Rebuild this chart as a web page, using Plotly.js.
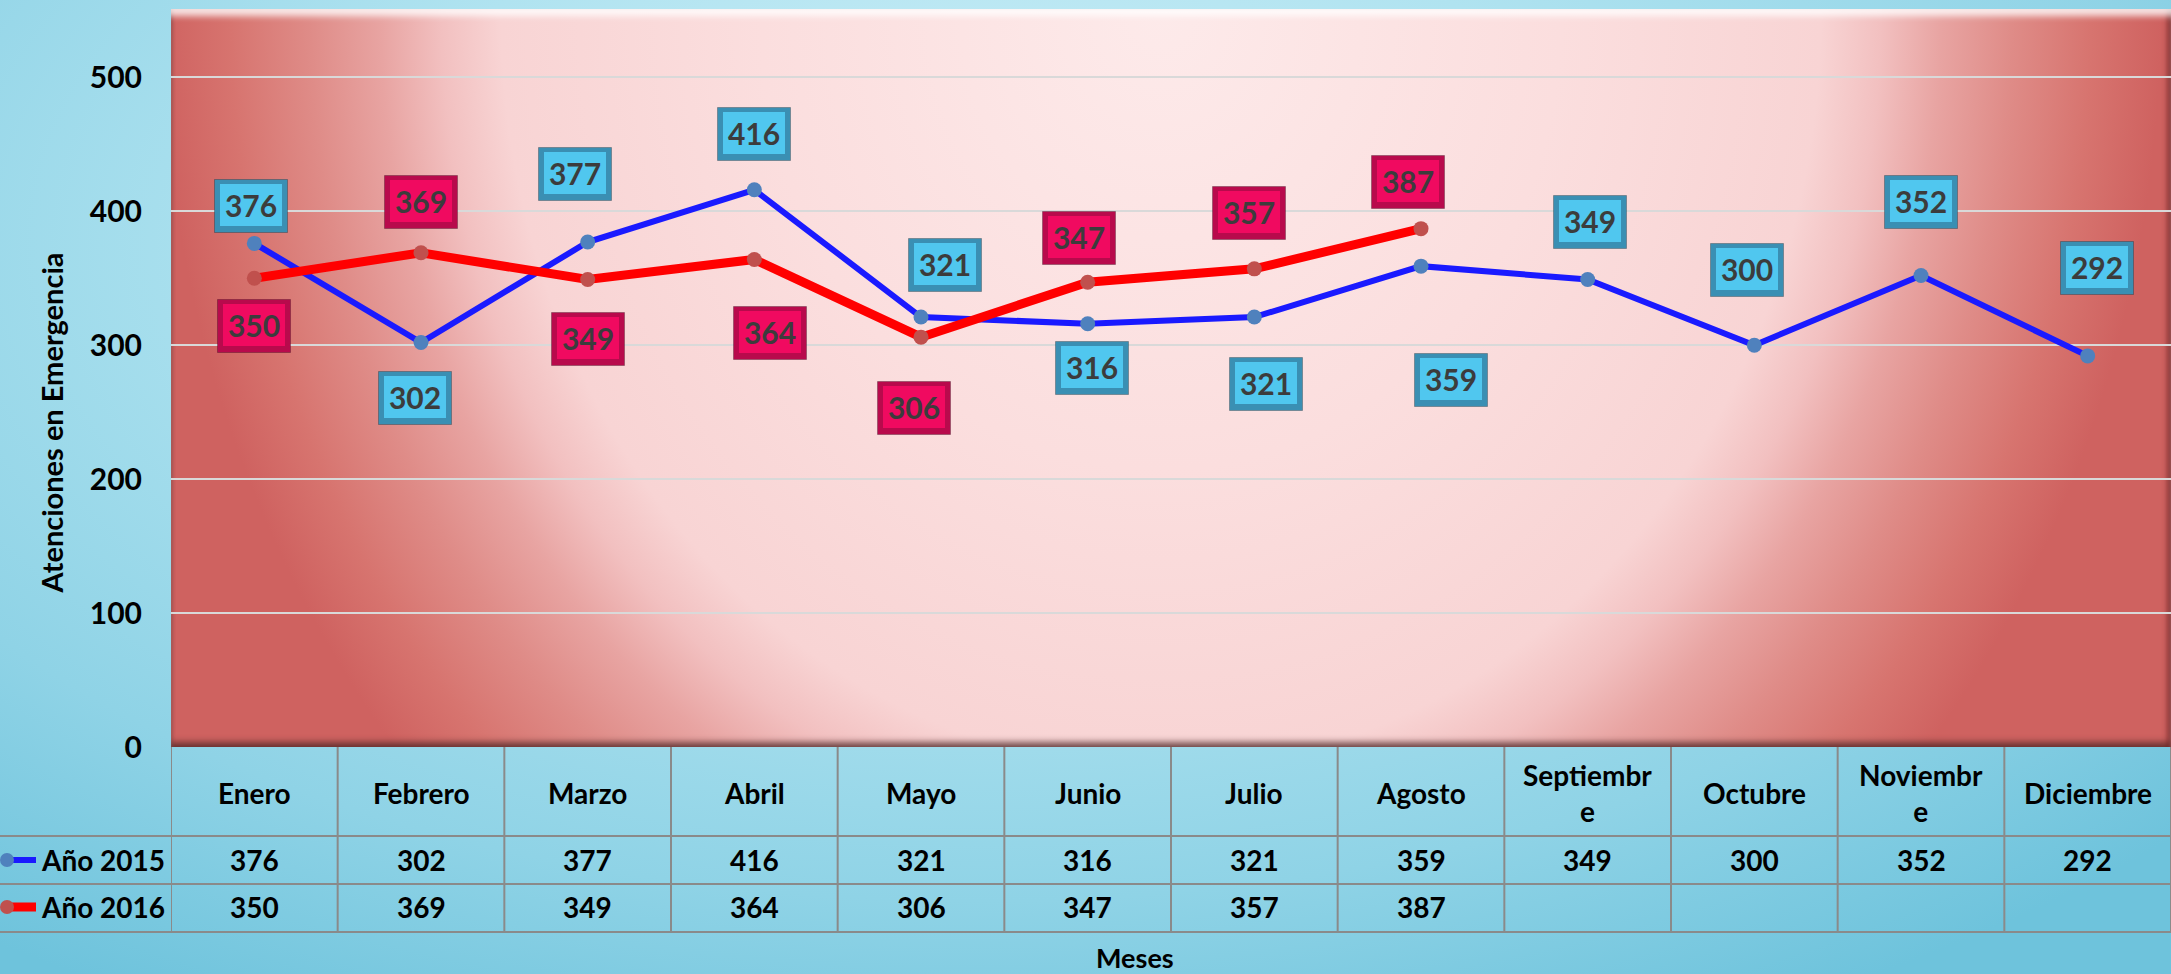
<!DOCTYPE html>
<html>
<head>
<meta charset="utf-8">
<script src="https://cdn.plot.ly/plotly-3.0.1.min.js"></script>
<style>
  html, body { margin:0; padding:0; width:2171px; height:974px; overflow:hidden; }
  body { background: radial-gradient(ellipse 75% 90% at 45% 25%, #d3f1f9 0%, #b0e3f0 40%, #8fd3e6 75%, #6ec3dc 100%); position:relative; }
  #plotbg { position:absolute; left:171px; top:9px; width:2000px; height:738px;
    background: radial-gradient(ellipse 1000px 1150px at 49.5% 0%, #fdeaea 0%, #fbdede 40%, #f8d4d4 66%, #f2c0c0 72%, #e8a4a2 78%, #df8c88 85%, #d7746f 93%, #cf6260 100%);
    box-shadow: inset 0 10px 6px -3px rgba(255,255,255,0.8), inset -7px 0 5px -3px rgba(110,35,35,0.7), inset 0 -8px 6px -3px rgba(80,40,40,0.75), inset 3px 0 3px -1px rgba(110,35,35,0.45);
  }
  #chart { position:absolute; left:0; top:0; width:2171px; height:974px; }
</style>
</head>
<body>
<div id="plotbg"></div>
<div id="chart"></div>
<script>
// ---- data ----
var months = ['Enero','Febrero','Marzo','Abril','Mayo','Junio','Julio','Agosto','Septiembre','Octubre','Noviembre','Diciembre'];
var headerLabels = ['Enero','Febrero','Marzo','Abril','Mayo','Junio','Julio','Agosto','Septiembr<br>e','Octubre','Noviembr<br>e','Diciembre'];
var values2015 = [376, 302, 377, 416, 321, 316, 321, 359, 349, 300, 352, 292];
var values2016 = [350, 369, 349, 364, 306, 347, 357, 387];
var seriesNames = ['Año 2015', 'Año 2016'];
var yTicks = [0, 100, 200, 300, 400, 500];
var yTitle = 'Atenciones en Emergencia';
var xTitle = 'Meses';

// ---- label placement (pixel offsets of each data-label box from its point) ----
var labelShift2015 = [[-3,-37],[-6,55],[-13,-68],[0,-56],[24,-52],[4,44],[12,67],[30,114],[2,-58],[-7,-75],[0,-74],[9,-88]];
var labelShift2016 = [[0,48],[0,-51],[0,59],[16,74],[-7,71],[-9,-44],[-5,-56],[-13,-47]];

var FONT = 'Lato, "Open Sans", sans-serif';
var annotations = [];
var shapes = [];

function addLabels(vals, shifts, frameCol, faceCol) {
  vals.forEach(function(v, i) {
    var s = shifts[i];
    annotations.push({x: months[i], y: v, xref:'x', yref:'y', showarrow:false, text:' ',
      xshift: s[0], yshift: -s[1], width: 72, height: 52, bgcolor: frameCol,
      bordercolor: 'rgba(0,0,0,0.25)', borderwidth: 1, borderpad: 0});
    annotations.push({x: months[i], y: v, xref:'x', yref:'y', showarrow:false, text: String(v),
      xshift: s[0], yshift: -s[1] + 1, width: 62, height: 42, bgcolor: faceCol, borderwidth: 0, borderpad: 0,
      font: {family: FONT, size: 30, color: '#3c3c3c', weight: 'bold'}});
  });
}
addLabels(values2015, labelShift2015, '#3a8fb3', '#50c7ef');
addLabels(values2016, labelShift2016, '#b80a4c', '#f00a60');

// ---- table under the plot ----
var rowCenter = [-113, -160];
headerLabels.forEach(function(h, i) {
  annotations.push({x: months[i], xref:'x', y: 0, yref:'paper', yshift: -46, yanchor:'middle',
    showarrow:false, text: h, font: {family: FONT, size: 28, color:'#000', weight:'bold'}});
});
[values2015, values2016].forEach(function(vals, r) {
  vals.forEach(function(v, i) {
    annotations.push({x: months[i], xref:'x', y: 0, yref:'paper', yshift: rowCenter[r], yanchor:'middle',
      showarrow:false, text: String(v), font: {family: FONT, size: 28, color:'#000', weight:'bold'}});
  });
  annotations.push({x: 0, xref:'paper', xanchor:'left', xshift: -132, y: 0, yref:'paper', yshift: rowCenter[r], yanchor:'middle',
    showarrow:false, text: seriesNames[r], font: {family: FONT, size: 28, color:'#000', weight:'bold'}});
});
// grid lines of table
var gridCol = '#8a8a8a';
for (var k = 0; k <= months.length; k++) {
  shapes.push({type:'line', xref:'x', x0: k - 0.5, x1: k - 0.5, yref:'paper', ysizemode:'pixel', yanchor: 0, y0: 0, y1: -185,
    line: {color: gridCol, width: 2}});
}
[-89, -137, -185].forEach(function(yy) {
  shapes.push({type:'line', xref:'paper', xsizemode:'pixel', xanchor: 0, x0: -171, x1: 2000,
    yref:'paper', ysizemode:'pixel', yanchor: 0, y0: yy, y1: yy, line: {color: gridCol, width: 2}});
});
// legend keys
var keyLine = [{c:'#1a1aff', w:6}, {c:'#ff0000', w:9}];
var keyMarker = ['#4f81bd', '#c0504d'];
rowCenter.forEach(function(yc, r) {
  shapes.push({type:'line', xref:'paper', xsizemode:'pixel', xanchor:0, x0:-164, x1:-135,
    yref:'paper', ysizemode:'pixel', yanchor:0, y0: yc, y1: yc, line:{color: keyLine[r].c, width: keyLine[r].w}});
  shapes.push({type:'circle', xref:'paper', xsizemode:'pixel', xanchor:0, x0:-171, x1:-157,
    yref:'paper', ysizemode:'pixel', yanchor:0, y0: yc - 7, y1: yc + 7, fillcolor: keyMarker[r], line:{width:0}});
});
// axis titles
annotations.push({x: 0, xref:'paper', xshift: -139, y: 0.439, yref:'paper', textangle: -90, showarrow:false,
  text: yTitle, font: {family: FONT, size: 29, color:'#000', weight:'bold'}});
annotations.push({x: 0.482, xref:'paper', y: 0, yref:'paper', yshift: -210, yanchor:'middle', showarrow:false,
  text: xTitle, font: {family: FONT, size: 27, color:'#000', weight:'bold'}});

var traces = [
  {x: months, y: values2015, name: seriesNames[0], type:'scatter', mode:'lines+markers',
   line: {color:'#1a1aff', width:6}, marker: {color:'#4f81bd', size:15, line:{width:0}}},
  {x: months.slice(0, values2016.length), y: values2016, name: seriesNames[1], type:'scatter', mode:'lines+markers',
   line: {color:'#ff0000', width:9}, marker: {color:'#c0504d', size:15, line:{width:0}}}
];

var layout = {
  width: 2171, height: 974, autosize: false,
  margin: {l:171, r:0, t:9, b:227, pad:0},
  paper_bgcolor: 'rgba(0,0,0,0)', plot_bgcolor: 'rgba(0,0,0,0)',
  showlegend: false,
  xaxis: {type:'category', categoryarray: months, range:[-0.5, 11.5], showticklabels:false, showgrid:false, zeroline:false, showline:false, ticks:''},
  yaxis: {range:[0, 551], tickvals: yTicks, ticktext: yTicks.map(String), showgrid:true, gridcolor:'#d9d9d9', gridwidth:2,
    zeroline:false, showline:false, ticks:'', ticklabelstandoff: 28,
    tickfont: {family: FONT, size: 30, color:'#000', weight:'bold'}},
  annotations: annotations,
  shapes: shapes
};

Plotly.newPlot('chart', traces, layout, {displayModeBar:false, staticPlot:true});
</script>
</body>
</html>
